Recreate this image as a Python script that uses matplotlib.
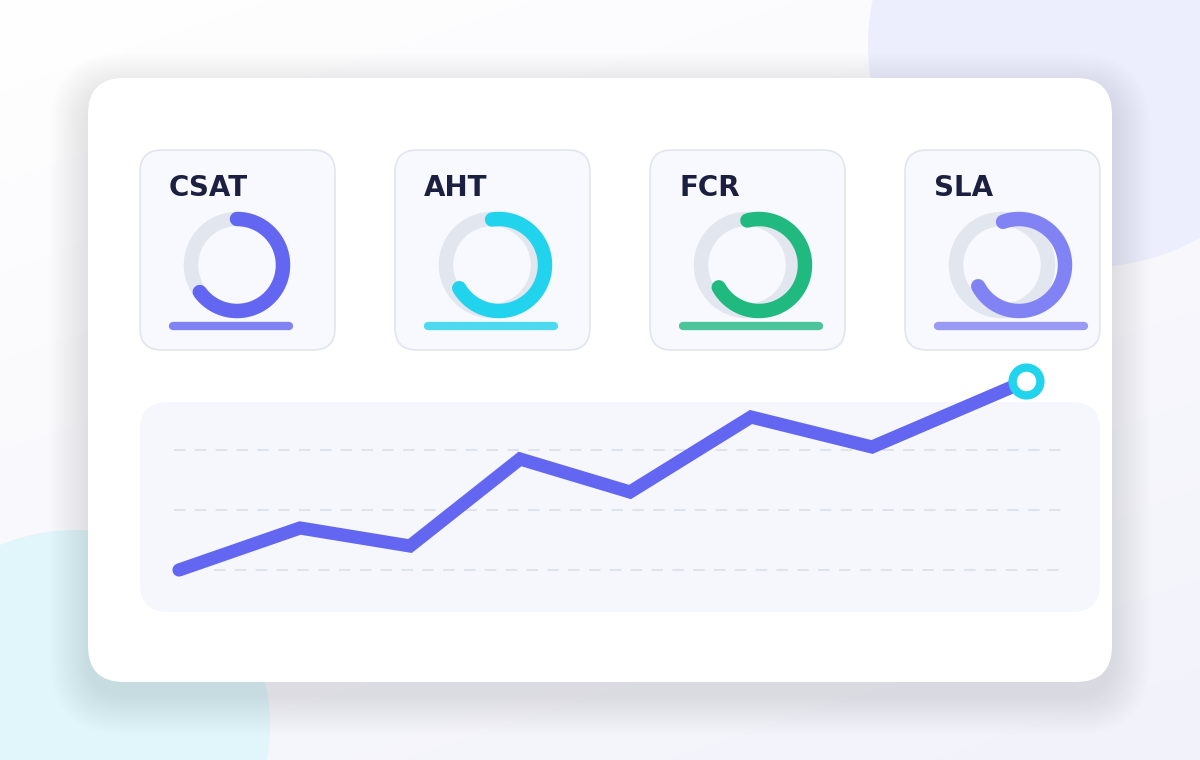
import numpy as np
import matplotlib
matplotlib.use('Agg')
import matplotlib.pyplot as plt
from matplotlib.patches import FancyBboxPatch, Circle

# KPI tiles
kpi_names = ['CSAT', 'AHT', 'FCR', 'SLA']
kpi_values = [0.65, 0.69, 0.71, 0.73]      # filled share of each ring
kpi_bars = [62, 67, 72, 77]                # bar under each ring
kpi_colors = ['#6366f1', '#22d3ee', '#20b980', '#8183f4']
ring_shift = [0, 7, 12, 17]                # arc drifts right of its track

# trend line
trend_x = [0, 11, 21, 31, 41, 52, 63, 77]
trend_y = [20, 34, 28, 57, 46, 71, 61, 83]
grid_levels = [20, 40, 60]

W, H = 1200, 760
fig = plt.figure(figsize=(12, 7.6), dpi=100)
ax = fig.add_axes([0, 0, 1, 1])
ax.set_xlim(0, W)
ax.set_ylim(H, 0)
ax.axis('off')

# background gradient + blobs
xx, yy = np.meshgrid(np.linspace(0, 1, 300), np.linspace(0, 1, 190))
t = np.clip(0.35 * xx + 0.65 * yy, 0, 1)[..., None]
c0 = np.array([255, 255, 255]) / 255
c1 = np.array([242, 242, 251]) / 255
ax.imshow(c0 * (1 - t) + c1 * t, extent=(0, W, H, 0), zorder=0, aspect='auto')
ax.add_patch(Circle((1090, 45), 222, fc='#eceefd', ec='none', zorder=1))
ax.add_patch(Circle((75, 725), 195, fc='#e1f6fb', ec='none', zorder=1))

# main card with soft shadow
for i in range(26):
    e = 1 + i * 1.5
    ax.add_patch(FancyBboxPatch((88 - e, 78 - e + 14), 1024 + 2 * e, 604 + 2 * e,
                                boxstyle=f"round,pad=0,rounding_size={36 + e}",
                                fc='#3a4490', ec='none', alpha=0.0035, zorder=2))
ax.add_patch(FancyBboxPatch((88, 78), 1024, 604, boxstyle="round,pad=0,rounding_size=36",
                            fc='white', ec='none', zorder=3))

# KPI tiles
for i, name in enumerate(kpi_names):
    x0 = 140 + i * 255
    ax.add_patch(FancyBboxPatch((x0, 150), 195, 200, boxstyle="round,pad=0,rounding_size=22",
                                fc='#f8f9fe', ec='#e2e5f0', lw=1.2, zorder=4))
    ax.text(x0 + 29, 196, name, fontsize=20, fontweight='bold', color='#1c1f3f',
            ha='left', va='baseline', zorder=5)
    cx, cy, r = x0 + 97, 265, 46
    ax.add_patch(Circle((cx, cy), r, fill=False, ec='#e2e6ee', lw=10.4, zorder=5))
    acx = cx + ring_shift[i]
    t0 = np.degrees(np.arctan2(r, -ring_shift[i]))
    ang = np.radians(np.linspace(t0, t0 - 360 * kpi_values[i], 200))
    ax.plot(acx + r * np.cos(ang), cy - r * np.sin(ang), color=kpi_colors[i], lw=10.4,
            solid_capstyle='round', zorder=6)
    ax.plot([x0 + 33, x0 + 33 + 2 * kpi_bars[i] - 8], [326, 326], color=kpi_colors[i],
            alpha=0.8, lw=6, solid_capstyle='round', zorder=6)

# trend panel
ax.add_patch(FancyBboxPatch((140, 402), 960, 210, boxstyle="round,pad=0,rounding_size=28",
                            fc='#f6f7fc', ec='none', zorder=4))

ax2 = fig.add_axes([0, 0, 1, 1])
ax2.patch.set_visible(False)
ax2.axis('off')
ax2.set_xlim(-179 / 11, (1200 - 179) / 11)
ax2.set_ylim(20 - 190 / 3, 20 + 570 / 3)

for lvl in grid_levels:
    start = 3.2 if lvl == grid_levels[0] else -0.45
    ax2.plot([start, 80.3], [lvl, lvl], color='#dfe3ec', lw=1.5,
             linestyle=(0, (5.5, 4.5)), zorder=1)

ax2.plot(trend_x, trend_y, color='#6366f1', lw=9.5, solid_capstyle='round',
         solid_joinstyle='miter', zorder=2)
ax2.plot(trend_x[-1], trend_y[-1], 'o', ms=20, mfc='white', mec='#22d3ee', mew=6, zorder=3)

fig.savefig('out.png', dpi=100)
